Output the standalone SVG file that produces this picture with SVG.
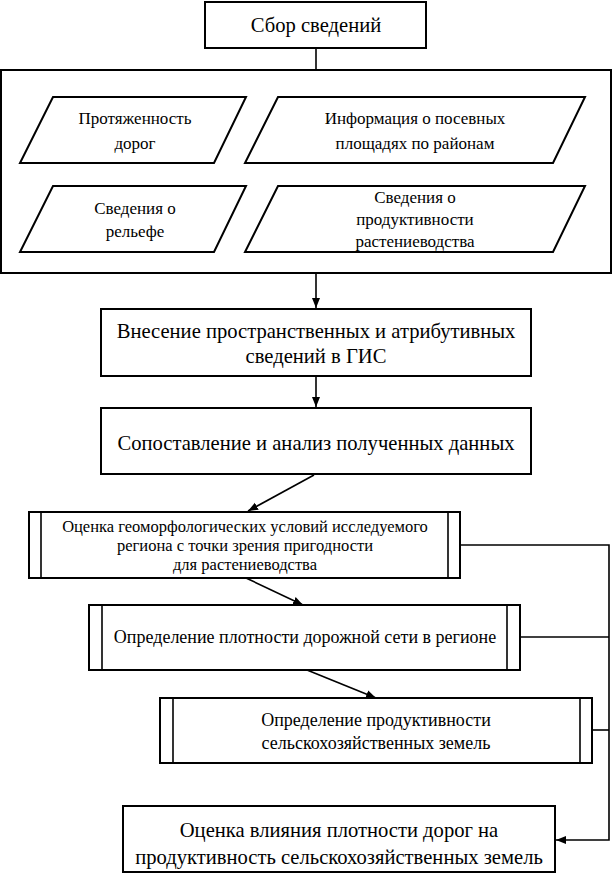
<svg xmlns="http://www.w3.org/2000/svg" width="613" height="874" viewBox="0 0 613 874">
<style>
.b{fill:#fff;stroke:#000;stroke-width:2}
.l{fill:none;stroke:#000;stroke-width:1.6}
.c{fill:none;stroke:#000;stroke-width:1.6}
text{font-family:"Liberation Serif","Times New Roman",serif;fill:#000;text-anchor:middle;dominant-baseline:central}
.t20{font-size:20.6px}
.t17{font-size:17px}
.t16{font-size:16.5px}
.t18{font-size:18px}
</style>
<defs>
<marker id="ah" viewBox="0 0 10 10" refX="10" refY="5" markerWidth="10" markerHeight="10" markerUnits="userSpaceOnUse" orient="auto">
<path d="M0,1 L10,5 L0,9 Z" fill="#000"/>
</marker>
</defs>
<rect width="613" height="874" fill="#fff"/>
<g id="connectors">
<line class="c" x1="316" y1="48" x2="316" y2="70"/>
<line class="c" x1="1" y1="131" x2="36" y2="131"/>
<line class="c" x1="568" y1="131" x2="611" y2="131"/>
<line class="c" x1="1" y1="219" x2="36" y2="219"/>
<line class="c" x1="568" y1="219" x2="611" y2="219"/>
<line class="c" x1="316" y1="273" x2="316" y2="308" marker-end="url(#ah)"/>
<line class="c" x1="316" y1="376" x2="316" y2="407" marker-end="url(#ah)"/>
<line class="c" x1="314" y1="475" x2="248" y2="511" marker-end="url(#ah)"/>
<line class="c" x1="246" y1="578" x2="303" y2="605" marker-end="url(#ah)"/>
<line class="c" x1="307" y1="670" x2="376" y2="698" marker-end="url(#ah)"/>
<polyline class="c" points="460,545 609,545 609,840 556,840" marker-end="url(#ah)"/>
<line class="c" x1="520" y1="637" x2="609" y2="637"/>
<line class="c" x1="592" y1="730" x2="609" y2="730"/>
</g>
<g id="n-sbor">
<rect class="b" x="205" y="2" width="221" height="46"/>
<text class="t20" x="316" y="25">Сбор сведений</text>
</g>
<g id="n-group">
<rect class="b" x="1" y="70" width="610" height="203" fill="none"/>
</g>
<g id="n-p1">
<polygon class="b" points="53,97 246,97 214,163 20,163"/>
<text class="t17" x="135" y="118">Протяженность</text>
<text class="t17" x="135" y="143">дорог</text>
</g>
<g id="n-p2">
<polygon class="b" points="278,97 585,97 553,163 245,163"/>
<text class="t17" x="415" y="118">Информация о посевных</text>
<text class="t17" x="415" y="143">площадях по районам</text>
</g>
<g id="n-p3">
<polygon class="b" points="53,186 246,186 214,252 20,252"/>
<text class="t17" x="135" y="208">Сведения о</text>
<text class="t17" x="135" y="231">рельефе</text>
</g>
<g id="n-p4">
<polygon class="b" points="278,186 585,186 553,252 245,252"/>
<text class="t17" x="415" y="197">Сведения о</text>
<text class="t17" x="415" y="219">продуктивности</text>
<text class="t17" x="415" y="241">растениеводства</text>
</g>
<g id="n-gis">
<rect class="b" x="101" y="309" width="430" height="67"/>
<text class="t20" x="316" y="331">Внесение пространственных и атрибутивных</text>
<text class="t20" x="316" y="356">сведений в ГИС</text>
</g>
<g id="n-analiz">
<rect class="b" x="101" y="408" width="430" height="66"/>
<text class="t20" x="316" y="443">Сопоставление и анализ полученных данных</text>
</g>
<g id="n-geo">
<rect class="b" x="29" y="512" width="431" height="66"/>
<line class="l" x1="41" y1="512" x2="41" y2="578"/>
<line class="l" x1="448" y1="512" x2="448" y2="578"/>
<text class="t16" x="245" y="526">Оценка геоморфологических условий исследуемого</text>
<text class="t16" x="245" y="545">региона с точки зрения пригодности</text>
<text class="t16" x="245" y="564">для растениеводства</text>
</g>
<g id="n-road">
<rect class="b" x="89" y="605" width="431" height="65"/>
<line class="l" x1="102" y1="605" x2="102" y2="670"/>
<line class="l" x1="507" y1="605" x2="507" y2="670"/>
<text class="t18" x="305" y="637">Определение плотности дорожной сети в регионе</text>
</g>
<g id="n-prod">
<rect class="b" x="160" y="698" width="432" height="65"/>
<line class="l" x1="173" y1="698" x2="173" y2="763"/>
<line class="l" x1="580" y1="698" x2="580" y2="763"/>
<text class="t18" x="376" y="720">Определение продуктивности</text>
<text class="t18" x="376" y="743">сельскохозяйственных земель</text>
</g>
<g id="n-final">
<rect class="b" x="123" y="806" width="432" height="66"/>
<text class="t20" x="339" y="830">Оценка влияния плотности дорог на</text>
<text class="t20" x="339" y="857">продуктивность сельскохозяйственных земель</text>
</g>
</svg>
